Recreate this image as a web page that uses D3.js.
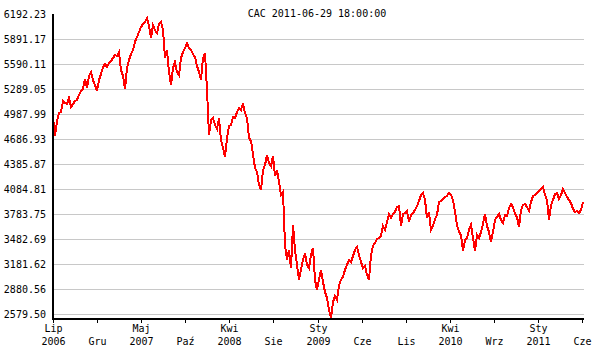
<!DOCTYPE html>
<html>
<head>
<meta charset="utf-8">
<script src="https://cdn.jsdelivr.net/npm/d3@7"></script>
<style>
    body { margin: 0; background: #fff; }
    text { font-family: "DejaVu Sans Mono", monospace; font-size: 10px; fill: #000; }
</style>
</head>
<body>
<svg id="svg-cac" width="594" height="349"></svg>
<script>
// 标题
let title = 'CAC 2011-06-29 18:00:00';

// y 轴 刻度
let yTicks = [2579.50, 2880.56, 3181.62, 3482.69, 3783.75, 4084.81, 4385.87,
    4686.93, 4987.99, 5289.05, 5590.11, 5891.17, 6192.23];

// x 轴 刻度 (月份 / 年份)
let tickMonths = ['Lip', 'Gru', 'Maj', 'Paź', 'Kwi', 'Sie', 'Sty', 'Cze', 'Lis', 'Kwi', 'Wrz', 'Sty', 'Cze'];
let tickYears = ['2006', '', '2007', '', '2008', '', '2009', '', '', '2010', '', '2011', ''];

// 指数 数据 (2006-06 .. 2011-06)
let cacValues = [
    4952, 4723, 4904, 5000, 5012, 5145, 5120, 5108, 5181, 5072,
    5108, 5145, 5157, 5217, 5265, 5289, 5409, 5301, 5446, 5494,
    5397, 5337, 5265, 5397, 5470, 5554, 5590, 5554, 5602, 5626,
    5662, 5698, 5686, 5735, 5518, 5446, 5289, 5542, 5638, 5710,
    5759, 5855, 5915, 5975, 6036, 6072, 6096, 6144, 6048, 5903,
    6060, 5999, 5963, 6072, 6096, 5999, 5662, 5759, 5494, 5337,
    5542, 5614, 5494, 5458, 5662, 5735, 5783, 5843, 5783, 5759,
    5710, 5674, 5566, 5494, 5397, 5662, 5722, 5277, 4735, 4916,
    4940, 4856, 4807, 4940, 4675, 4579, 4470, 4699, 4844, 4856,
    4952, 4940, 5012, 5060, 5036, 5120, 5000, 4940, 4699, 4663,
    4506, 4338, 4290, 4133, 4073, 4314, 4374, 4494, 4398, 4362,
    4482, 4241, 4314, 4169, 4013, 4049, 3411, 3230, 3351, 3134,
    3652, 3351, 3170, 2989, 3110, 3230, 3314, 3170, 3134, 3290,
    3375, 2989, 2869, 2989, 3110, 2965, 2845, 2773, 2628, 2532,
    2725, 2797, 2749, 2929, 2989, 3026, 3110, 3170, 3230, 3206,
    3278, 3351, 3387, 3290, 3206, 3134, 3158, 3050, 2989, 3290,
    3399, 3435, 3483, 3495, 3519, 3640, 3592, 3688, 3784, 3736,
    3784, 3808, 3868, 3880, 3640, 3784, 3796, 3820, 3688, 3772,
    3796, 3832, 3880, 3941, 4013, 4037, 3953, 3736, 3808, 3592,
    3640, 3724, 3772, 3929, 3941, 3965, 3989, 4001, 4037, 4013,
    3953, 3808, 3652, 3567, 3531, 3339, 3471, 3495, 3592, 3652,
    3495, 3339, 3531, 3495, 3567, 3664, 3784, 3640, 3567, 3447,
    3567, 3712, 3748, 3784, 3712, 3676, 3772, 3760, 3856, 3905,
    3868, 3784, 3748, 3628, 3832, 3892, 3905, 3868, 3820, 3929,
    4001, 4013, 4037, 4061, 4085, 4109, 4013, 3953, 3712, 3892,
    3953, 4025, 4037, 3965, 4013, 4085, 4037, 3989, 3953, 3917,
    3844, 3808, 3820, 3796, 3832, 3929
];

function draw_cac() {
    let svg = d3.select('#svg-cac');
    let left = 53, right = 583, top = 14, bottom = 314, axisY = 319;

    // 比例尺
    let xScale = d3.scaleLinear()
        .domain([0, cacValues.length - 1])
        .range([left, right]);
    let yScale = d3.scaleLinear()
        .domain([yTicks[0], yTicks[yTicks.length - 1]])
        .range([bottom, top]);
    // 刻度 位置 (等间距)
    let tickScale = d3.scaleLinear()
        .domain([0, tickMonths.length - 1])
        .range([left, right - 1]);

    // 网格线 (顶部 不画)
    svg.append('g')
        .selectAll('line')
        .data(yTicks.slice(0, -1))
        .enter()
        .append('line')
        .attr('x1', left)
        .attr('x2', right + 1)
        .attr('y1', d => Math.round(yScale(d)) + 0.5)
        .attr('y2', d => Math.round(yScale(d)) + 0.5)
        .attr('stroke', '#c8c8c8')
        .attr('stroke-width', 1);

    // y 轴 标签
    let yAxis = d3.axisLeft(yScale)
        .tickValues(yTicks)
        .tickSize(0)
        .tickPadding(0)
        .tickFormat(d => d.toFixed(2));
    let gY = svg.append('g')
        .attr('transform', 'translate(' + 46 + ',0)')
        .call(yAxis);
    gY.select('.domain').remove();
    gY.selectAll('text')
        .attr('font-family', '"DejaVu Sans Mono", monospace')
        .attr('font-size', 10)
        .attr('fill', '#000');

    // 折线 (锯齿 风格)
    let line = d3.line()
        .x((d, i) => xScale(i))
        .y(d => yScale(d));
    svg.append('path')
        .datum(cacValues)
        .attr('d', line)
        .attr('fill', 'none')
        .attr('stroke', '#ff0000')
        .attr('stroke-width', 2)
        .attr('shape-rendering', 'crispEdges');

    // 坐标轴 线
    svg.append('line')
        .attr('x1', left).attr('x2', left)
        .attr('y1', top).attr('y2', axisY + 1)
        .attr('stroke', '#000').attr('stroke-width', 2);
    svg.append('line')
        .attr('x1', left - 1).attr('x2', right + 1)
        .attr('y1', axisY).attr('y2', axisY)
        .attr('stroke', '#000').attr('stroke-width', 2);

    // x 轴 刻度 和 标签
    let gX = svg.append('g');
    tickMonths.forEach(function (m, i) {
        let x = Math.round(tickScale(i)) + 0.5;
        gX.append('line')
            .attr('x1', x).attr('x2', x)
            .attr('y1', axisY).attr('y2', axisY + 4)
            .attr('stroke', '#000').attr('stroke-width', 1);
        if (tickYears[i]) {
            gX.append('text').attr('x', x).attr('y', 332)
                .attr('text-anchor', 'middle').text(m);
            gX.append('text').attr('x', x).attr('y', 345)
                .attr('text-anchor', 'middle').text(tickYears[i]);
        } else {
            gX.append('text').attr('x', x).attr('y', 345)
                .attr('text-anchor', 'middle').text(m);
        }
    });

    // 标题
    svg.append('text')
        .attr('x', 317)
        .attr('y', 17)
        .attr('text-anchor', 'middle')
        .text(title);
}

draw_cac();
</script>
</body>
</html>
